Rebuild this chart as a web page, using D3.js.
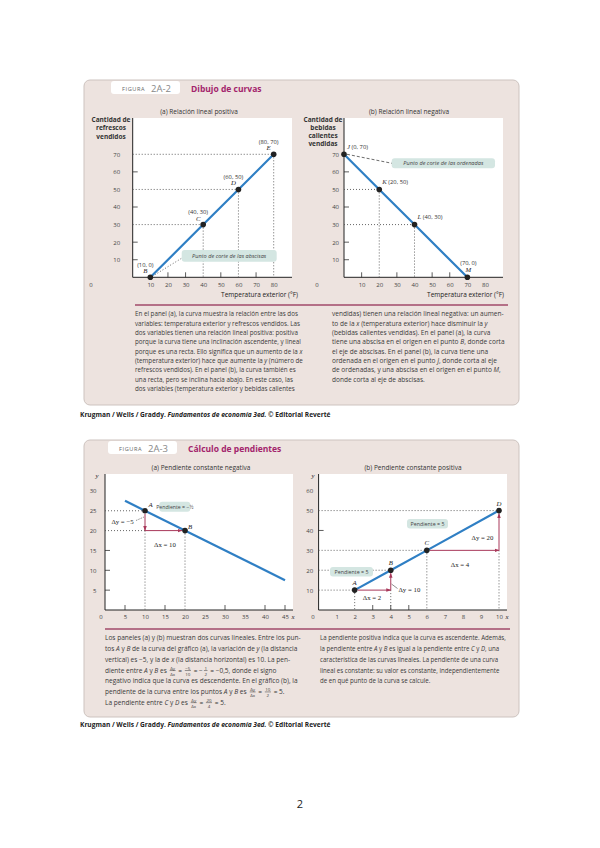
<!DOCTYPE html>
<html><head><meta charset="utf-8">
<script src="https://cdn.jsdelivr.net/npm/d3@7/dist/d3.min.js"></script>
<style>html,body{margin:0;padding:0;background:#fff}svg{display:block}text{white-space:pre}</style>
</head><body>
<svg id="page" width="600" height="848"></svg>
<script>
// ---------- Figura 2A-2 data ----------
const tempTicks = [10, 20, 30, 40, 50, 60, 70, 80];
const qtyTicks = [10, 20, 30, 40, 50, 60, 70];
const posTemp = [10, 40, 60, 80];
const posSoda = [0, 30, 50, 70];
const posNames = ["B", "C", "D", "E"];
const negTemp = [0, 20, 40, 70];
const negHot = [70, 50, 30, 0];
const negNames = ["J", "K", "L", "M"];
// ---------- Figura 2A-3 data ----------
const negSlopeXTicks = [5, 10, 15, 20, 25, 30, 35, 40, 45];
const negSlopeYTicks = [5, 10, 15, 20, 25, 30];
const negLineX = [5, 45];
const negLineY = [27.5, 7.5];
const negPtX = [10, 20];
const negPtY = [25, 20];
const negPtNames = ["A", "B"];
const posSlopeXTicks = [1, 2, 3, 4, 5, 6, 7, 8, 9, 10];
const posSlopeYTicks = [10, 20, 30, 40, 50, 60];
const posPtX = [2, 4, 6, 10];
const posPtY = [10, 20, 30, 50];
const posPtNames = ["A", "B", "C", "D"];

// ---------- texts ----------
const F = (n, d) => ({n, d});
const fig1Left = [
 ["En el panel (a), la curva muestra la relación entre las dos"],
 ["variables: temperatura exterior y refrescos vendidos. Las"],
 ["dos variables tienen una relación lineal positiva: positiva"],
 ["porque la curva tiene una inclinación ascendente, y lineal"],
 ["porque es una recta. Ello significa que un aumento de la _x_"],
 ["(temperatura exterior) hace que aumente la _y_ (número de"],
 ["refrescos vendidos). En el panel (b), la curva también es"],
 ["una recta, pero se inclina hacia abajo. En este caso, las"],
 ["dos variables (temperatura exterior y bebidas calientes"]];
const fig1Right = [
 ["vendidas) tienen una relación lineal negativa: un aumen-"],
 ["to de la _x_ (temperatura exterior) hace disminuir la _y_"],
 ["(bebidas calientes vendidas). En el panel (a), la curva"],
 ["tiene una abscisa en el origen en el punto _B_, donde corta"],
 ["el eje de abscisas. En el panel (b), la curva tiene una"],
 ["ordenada en el origen en el punto _J_, donde corta al eje"],
 ["de ordenadas, y una abscisa en el origen en el punto _M_,"],
 ["donde corta al eje de abscisas."]];
const fig2Left = [
 ["Los paneles (a) y (b) muestran dos curvas lineales. Entre los pun-"],
 ["tos _A_ y _B_ de la curva del gráfico (a), la variación de _y_ (la distancia"],
 ["vertical) es −5, y la de _x_ (la distancia horizontal) es 10. La pen-"],
 ["diente entre _A_ y _B_ es ", F("Δy","Δx"), " = ", F("−5","10"), " = −", F("1","2"), " = −0,5, donde el signo"],
 ["negativo indica que la curva es descendente. En el gráfico (b), la"],
 ["pendiente de la curva entre los puntos _A_ y _B_ es ", F("Δy","Δx"), " = ", F("10","2"), " = 5."],
 ["La pendiente entre _C_ y _D_ es ", F("Δy","Δx"), " = ", F("20","4"), " = 5."]];
const fig2Right = [
 ["La pendiente positiva indica que la curva es ascendente. Además,"],
 ["la pendiente entre _A_ y _B_ es igual a la pendiente entre _C_ y _D_, una"],
 ["característica de las curvas lineales. La pendiente de una curva"],
 ["lineal es constante: su valor es constante, independientemente"],
 ["de en qué punto de la curva se calcule."]];

const svg = d3.select('#page');
const SANS = "'Open Sans','DejaVu Sans',sans-serif";
const SERIF = "'Liberation Serif','DejaVu Serif',serif";
svg.attr('font-family', SANS);
const C = {box:'#ede3df', boxStroke:'#cdc3bf', title:'#a3246c', rule:'#a04a6a', line:'#2f7fc4',
  red:'#a8385a', call:'#d4e6e2', text:'#3a3a3a', tick:'#444', dot:'#555'};

const defs = svg.append('defs');
defs.append('marker').attr('id','arr').attr('viewBox','0 0 10 10').attr('refX',9).attr('refY',5)
  .attr('markerWidth',5).attr('markerHeight',5).attr('orient','auto')
  .append('path').attr('d','M0,1.5L10,5L0,8.5Z').attr('fill',C.red);

function figBox(y, h, tabX, num, title) {
  svg.append('rect').attr('x',84).attr('y',y).attr('width',435).attr('height',h).attr('rx',6)
    .attr('fill',C.box).attr('stroke',C.boxStroke).attr('stroke-width',1);
  svg.append('rect').attr('x',tabX).attr('y',y+1).attr('width',69).attr('height',13).attr('rx',3).attr('fill','#fff');
  svg.append('text').attr('x',tabX+11).attr('y',y+11).attr('font-size',5.6).attr('letter-spacing',0.6)
    .attr('fill','#666').text('FIGURA');
  svg.append('text').attr('x',tabX+40).attr('y',y+11.5).attr('font-size',9.5).attr('fill','#888').text(num);
  svg.append('text').attr('x',tabX+80).attr('y',y+12).attr('font-size',8.5).attr('font-weight','bold')
    .attr('fill',C.title).text(title);
}

function richLine(g, pieces, y, fs) {
  let x = 0;
  pieces.forEach(p => {
    if (typeof p === 'string') {
      const t = g.append('text').attr('x',x).attr('y',y).attr('font-size',fs).attr('fill',C.text);
      p.split('_').forEach((seg,i) => { if (seg) t.append('tspan').attr('font-style', i%2 ? 'italic' : 'normal').text(seg); });
      x += t.node().getComputedTextLength();
    } else {
      const nf = fs*0.68;
      const tn = g.append('text').attr('y',y-fs*0.48).attr('font-size',nf).attr('text-anchor','middle').attr('fill',C.text).text(p.n);
      const td = g.append('text').attr('y',y+fs*0.5).attr('font-size',nf).attr('text-anchor','middle').attr('fill',C.text).text(p.d);
      const w = Math.max(tn.node().getComputedTextLength(), td.node().getComputedTextLength()) + 1;
      tn.attr('x', x+1+w/2); td.attr('x', x+1+w/2);
      g.append('line').attr('x1',x+1).attr('x2',x+1+w).attr('y1',y-fs*0.33).attr('y2',y-fs*0.33)
        .attr('stroke',C.text).attr('stroke-width',0.5);
      x += w + 2;
    }
  });
  return x;
}

function textColumn(lines, x0, y0, dy, width, fs) {
  const g = svg.append('g');
  let maxW = 0;
  lines.forEach((l,i) => { maxW = Math.max(maxW, richLine(g, l, y0 + i*dy, fs)); });
  const k = width / maxW;
  g.attr('transform', `translate(${x0},0) scale(${k},1)`);
}

function panel(o) {
  const g = svg.append('g');
  const x = d3.scaleLinear().domain(o.xd).range(o.xr);
  const y = d3.scaleLinear().domain(o.yd).range(o.yr);
  const left = x(0), bottom = y(0);
  g.append('rect').attr('x',left).attr('y',o.top).attr('width',o.right-left).attr('height',bottom-o.top).attr('fill','#fff');
  g.selectAll(null).data(o.yMarks).join('line').attr('x1',left).attr('x2',left+5)
    .attr('y1',d=>y(d)).attr('y2',d=>y(d)).attr('stroke','#333').attr('stroke-width',0.8);
  g.selectAll(null).data(o.xMarks).join('line').attr('x1',d=>x(d)).attr('x2',d=>x(d))
    .attr('y1',bottom).attr('y2',bottom-5).attr('stroke','#333').attr('stroke-width',0.8);
  g.append('line').attr('x1',left).attr('x2',left).attr('y1',o.top).attr('y2',bottom).attr('stroke','#222').attr('stroke-width',1);
  g.append('line').attr('x1',left).attr('x2',o.right).attr('y1',bottom).attr('y2',bottom).attr('stroke','#222').attr('stroke-width',1);
  const ax = g.append('g').attr('transform',`translate(0,${bottom})`)
    .call(d3.axisBottom(x).tickValues(o.xTicks).tickSize(0).tickPadding(o.xPad));
  const ay = g.append('g').attr('transform',`translate(${left},0)`)
    .call(d3.axisLeft(y).tickValues(o.yTicks).tickSize(0).tickPadding(o.yPad));
  [ax, ay].forEach(a => { a.select('.domain').remove(); a.attr('font-size',o.fs).attr('font-family',SANS);
    a.selectAll('text').attr('fill',C.tick); });
  g.append('text').attr('x',o.zeroX).attr('y',bottom+o.xPad).attr('dy','0.71em').attr('text-anchor','middle')
    .attr('font-size',o.fs).attr('fill',C.tick).text('0');
  return {g, x, y, left, bottom};
}

function dotted(g, x1, y1, x2, y2) {
  g.append('line').attr('x1',x1).attr('y1',y1).attr('x2',x2).attr('y2',y2)
    .attr('stroke',C.dot).attr('stroke-width',0.9).attr('stroke-dasharray','1,2');
}
function callout(g, x, y, w, h, txt, fs) {
  g.append('rect').attr('x',x).attr('y',y).attr('width',w).attr('height',h).attr('rx',3).attr('fill',C.call);
  return g.append('text').attr('x',x+w/2).attr('y',y+h/2+fs*0.35).attr('text-anchor','middle')
    .attr('font-size',fs).attr('font-style','italic').attr('fill','#444').text(txt);
}
function multiLabel(lines, cx, y0, dy) {
  lines.forEach((l,i) => svg.append('text').attr('x',cx).attr('y',y0+i*dy).attr('text-anchor','middle')
    .attr('font-size',6.5).attr('font-weight','bold').attr('fill','#333').text(l));
}
function blueLine(g, xs, ys, sx, sy) {
  g.append('path').datum(d3.range(xs.length))
    .attr('d', d3.line().x(i=>sx(xs[i])).y(i=>sy(ys[i])))
    .attr('fill','none').attr('stroke',C.line).attr('stroke-width',2.2);
}
function points(g, xs, ys, sx, sy) {
  g.selectAll(null).data(d3.range(xs.length)).join('circle')
    .attr('cx',i=>sx(xs[i])).attr('cy',i=>sy(ys[i])).attr('r',2.8).attr('fill','#222');
}
function redArrow(g, x1, y1, x2, y2) {
  g.append('line').attr('x1',x1).attr('y1',y1).attr('x2',x2).attr('y2',y2)
    .attr('stroke',C.red).attr('stroke-width',1).attr('marker-end','url(#arr)');
}
function serifLabel(g, x, y, t, anchor) {
  return g.append('text').attr('x',x).attr('y',y).attr('text-anchor',anchor||'middle')
    .attr('font-family',SERIF).attr('font-size',6.8).attr('fill','#222').text(t);
}

// =============== FIGURA 2A-2 ===============
figBox(80, 325, 111, '2A-2', 'Dibujo de curvas');
svg.append('text').attr('x',199).attr('y',113.5).attr('text-anchor','middle').attr('font-size',6.5).attr('fill','#333').text('(a) Relación lineal positiva');
svg.append('text').attr('x',409).attr('y',113.5).attr('text-anchor','middle').attr('font-size',6.5).attr('fill','#333').text('(b) Relación lineal negativa');

// panel (a)
const pa = panel({xd:[0,80], xr:[132.7,273.7], yd:[0,70], yr:[277.3,154.3], top:118, right:292,
  xTicks:tempTicks, yTicks:qtyTicks, xMarks:[20,30,50,70], yMarks:[10,20,40,60],
  xPad:5, yPad:12.5, fs:6, zeroX:91});
posTemp.forEach((t,i) => { if (posSoda[i] > 0) {
  dotted(pa.g, pa.left, pa.y(posSoda[i]), pa.x(t), pa.y(posSoda[i]));
  dotted(pa.g, pa.x(t), pa.y(posSoda[i]), pa.x(t), pa.bottom);
}});
dotted(pa.g, pa.x(posTemp[0])+2, pa.bottom-1, 182, 258);
callout(pa.g, 181.7, 250, 95, 11.7, 'Punto de corte de las abscisas', 5.6);
blueLine(pa.g, posTemp, posSoda, pa.x, pa.y);
points(pa.g, posTemp, posSoda, pa.x, pa.y);
posTemp.forEach((t,i) => {
  const px = pa.x(t)-5, py = pa.y(posSoda[i]);
  pa.g.append('text').attr('x',px).attr('y',py-10.5).attr('text-anchor','middle').attr('font-size',5.8).attr('fill','#333').text(`(${t}, ${posSoda[i]})`);
  serifLabel(pa.g, px, py-4, posNames[i]).attr('font-style','italic');
});
multiLabel(['Cantidad de','refrescos','vendidos'], 111, 122, 8.3);
svg.append('text').attr('x',298).attr('y',297).attr('text-anchor','end').attr('font-size',6.5).attr('fill','#222').text('Temperatura exterior (°F)');

// panel (b)
const pb = panel({xd:[0,80], xr:[344,485], yd:[0,70], yr:[277.3,154.3], top:118, right:503,
  xTicks:tempTicks, yTicks:qtyTicks, xMarks:[10,30,50,60], yMarks:[10,20,40,60],
  xPad:5, yPad:5, fs:6, zeroX:317});
negTemp.forEach((t,i) => { if (negHot[i] > 0 && t > 0) {
  dotted(pb.g, pb.left, pb.y(negHot[i]), pb.x(t), pb.y(negHot[i]));
  dotted(pb.g, pb.x(t), pb.y(negHot[i]), pb.x(t), pb.bottom);
}});
pb.g.append('line').attr('x1',pb.left+3).attr('y1',pb.y(negHot[0])).attr('x2',392).attr('y2',163.3)
  .attr('stroke','#444').attr('stroke-width',0.8).attr('stroke-dasharray','3,2');
callout(pb.g, 391.7, 158.3, 103.3, 10, 'Punto de corte de las ordenadas', 5.6);
blueLine(pb.g, negTemp, negHot, pb.x, pb.y);
points(pb.g, negTemp, negHot, pb.x, pb.y);
negTemp.forEach((t,i) => {
  const px = pb.x(t), py = pb.y(negHot[i]);
  if (negHot[i] > 0) {
    const tx = pb.g.append('text').attr('x',px+3).attr('y',py-5.5).attr('font-size',5.8).attr('fill','#333');
    tx.append('tspan').attr('font-family',SERIF).attr('font-style','italic').attr('font-size',6.8).text(negNames[i]);
    tx.append('tspan').text(` (${t}, ${negHot[i]})`);
  } else {
    pb.g.append('text').attr('x',px+1).attr('y',py-12).attr('text-anchor','middle').attr('font-size',5.8).attr('fill','#333').text(`(${t}, ${negHot[i]})`);
    serifLabel(pb.g, px+1, py-5, negNames[i]).attr('font-style','italic');
  }
});
multiLabel(['Cantidad de','bebidas','calientes','vendidas'], 323, 122, 8);
svg.append('text').attr('x',504).attr('y',297).attr('text-anchor','end').attr('font-size',6.5).attr('fill','#222').text('Temperatura exterior (°F)');

svg.append('line').attr('x1',135).attr('x2',508).attr('y1',305).attr('y2',305).attr('stroke',C.rule).attr('stroke-width',1.3);
textColumn(fig1Left, 135, 316.5, 9.3, 168, 6.3);
textColumn(fig1Right, 332, 316.5, 9.3, 173, 6.3);

function footer(y) {
  const t = svg.append('text').attr('x',80).attr('y',y).attr('font-size',6.6).attr('font-weight','bold').attr('fill','#222');
  t.append('tspan').text('Krugman / Wells / Graddy. ');
  t.append('tspan').attr('font-style','italic').text('Fundamentos de economía 3ed.');
  t.append('tspan').text(' © Editorial Reverté');
}
footer(417);

// =============== FIGURA 2A-3 ===============
figBox(440, 277, 108, '2A-3', 'Cálculo de pendientes');
svg.append('text').attr('x',201).attr('y',470).attr('text-anchor','middle').attr('font-size',6.5).attr('fill','#333').text('(a) Pendiente constante negativa');
svg.append('text').attr('x',413).attr('y',470).attr('text-anchor','middle').attr('font-size',6.5).attr('fill','#333').text('(b) Pendiente constante positiva');

// panel (a)
const qa = panel({xd:[0,45], xr:[105,285], yd:[0,30], yr:[610,490.9], top:474, right:293,
  xTicks:negSlopeXTicks, yTicks:negSlopeYTicks, xMarks:[5,15,30,40,45], yMarks:[5,10,15],
  xPad:4.5, yPad:8.5, fs:6, zeroX:101});
serifLabel(qa.g, 97, 478, 'y').attr('font-style','italic');
serifLabel(qa.g, 293, 619, 'x').attr('font-style','italic');
dotted(qa.g, qa.left, qa.y(negPtY[0]), qa.x(negPtX[0]), qa.y(negPtY[0]));
dotted(qa.g, qa.left, qa.y(negPtY[1]), qa.x(negPtX[0]), qa.y(negPtY[1]));
dotted(qa.g, qa.x(negPtX[0]), qa.y(negPtY[1]), qa.x(negPtX[0]), qa.bottom);
dotted(qa.g, qa.x(negPtX[1]), qa.y(negPtY[1]), qa.x(negPtX[1]), qa.bottom);
blueLine(qa.g, negLineX, negLineY, qa.x, qa.y);
redArrow(qa.g, qa.x(negPtX[0]), qa.y(negPtY[0])+3, qa.x(negPtX[0]), qa.y(negPtY[1]));
redArrow(qa.g, qa.x(negPtX[0]), qa.y(negPtY[1]), qa.x(negPtX[1])-3, qa.y(negPtY[1]));
points(qa.g, negPtX, negPtY, qa.x, qa.y);
serifLabel(qa.g, qa.x(negPtX[0])+5.7, qa.y(negPtY[0])-3.5, negPtNames[0]).attr('font-style','italic');
serifLabel(qa.g, qa.x(negPtX[1])+5, qa.y(negPtY[1])-1.8, negPtNames[1]).attr('font-style','italic');
serifLabel(qa.g, 122.5, 523.7, 'Δy = −5');
qa.g.append('line').attr('x1',136).attr('y1',520.5).attr('x2',144).attr('y2',517).attr('stroke','#444').attr('stroke-width',0.6).attr('stroke-dasharray','1.5,1');
serifLabel(qa.g, 165, 547, 'Δx = 10');
callout(qa.g, 159.3, 501.7, 31, 10, 'Pendiente = −½', 5.2).attr('font-style','normal');

// panel (b)
const qb = panel({xd:[0,10], xr:[318.6,499], yd:[0,60], yr:[610,490.7], top:474, right:507,
  xTicks:posSlopeXTicks, yTicks:posSlopeYTicks, xMarks:[3,4,5], yMarks:[40],
  xPad:4.5, yPad:5.5, fs:6, zeroX:313});
serifLabel(qb.g, 313, 477.5, 'y').attr('font-style','italic');
serifLabel(qb.g, 507, 619, 'x').attr('font-style','italic');
posPtX.forEach((v,i) => dotted(qb.g, qb.left, qb.y(posPtY[i]), qb.x(v), qb.y(posPtY[i])));
dotted(qb.g, qb.x(posPtX[0]), qb.y(posPtY[0]), qb.x(posPtX[0]), qb.bottom);
dotted(qb.g, qb.x(posPtX[1]), qb.y(posPtY[0]), qb.x(posPtX[1]), qb.bottom);
dotted(qb.g, qb.x(posPtX[2]), qb.y(posPtY[2]), qb.x(posPtX[2]), qb.bottom);
dotted(qb.g, qb.x(posPtX[3]), qb.y(posPtY[2]), qb.x(posPtX[3]), qb.bottom);
blueLine(qb.g, posPtX, posPtY, qb.x, qb.y);
redArrow(qb.g, qb.x(posPtX[0])+3, qb.y(posPtY[0]), qb.x(posPtX[1]), qb.y(posPtY[0]));
redArrow(qb.g, qb.x(posPtX[1]), qb.y(posPtY[0]), qb.x(posPtX[1]), qb.y(posPtY[1])+3);
redArrow(qb.g, qb.x(posPtX[2])+3, qb.y(posPtY[2]), qb.x(posPtX[3]), qb.y(posPtY[2]));
redArrow(qb.g, qb.x(posPtX[3]), qb.y(posPtY[2]), qb.x(posPtX[3]), qb.y(posPtY[3])+3);
points(qb.g, posPtX, posPtY, qb.x, qb.y);
posPtX.forEach((v,i) => serifLabel(qb.g, qb.x(v), qb.y(posPtY[i])-5, posPtNames[i]).attr('font-style','italic'));
serifLabel(qb.g, 372, 600, 'Δx = 2');
serifLabel(qb.g, 398.5, 591.5, 'Δy = 10', 'start');
qb.g.append('line').attr('x1',391.5).attr('y1',584).attr('x2',397.5).attr('y2',588.5).attr('stroke','#444').attr('stroke-width',0.6);
serifLabel(qb.g, 460, 567, 'Δx = 4');
serifLabel(qb.g, 482.5, 540, 'Δy = 20');
callout(qb.g, 407, 519, 41, 9.5, 'Pendiente = 5', 5.3).attr('font-style','normal');
callout(qb.g, 330, 567, 43, 9.5, 'Pendiente = 5', 5.3).attr('font-style','normal');

svg.append('line').attr('x1',105).attr('x2',510).attr('y1',629).attr('y2',629).attr('stroke',C.rule).attr('stroke-width',1.3);
textColumn(fig2Left, 105, 640.5, 10.7, 196, 6.3);
textColumn(fig2Right, 320, 640.5, 10.7, 186, 6.3);
footer(727);

svg.append('text').attr('x',300).attr('y',808).attr('text-anchor','middle').attr('font-size',11).attr('fill','#222').text('2');
</script>
</body></html>
